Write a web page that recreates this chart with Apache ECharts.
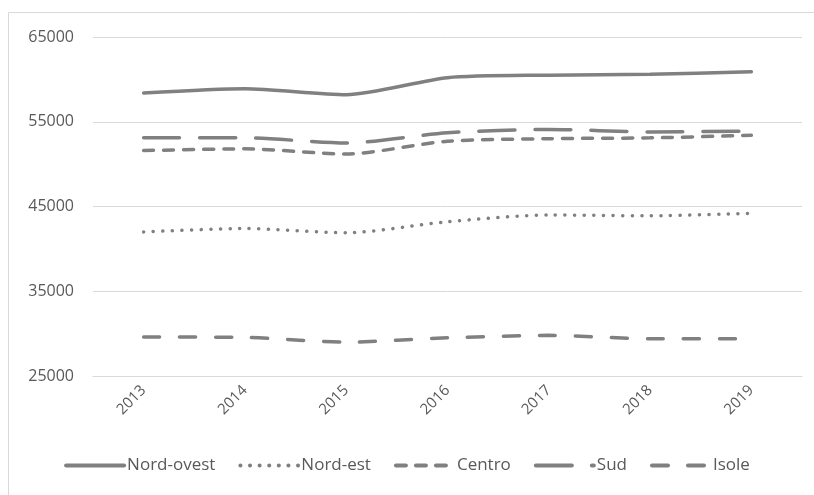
<!DOCTYPE html>
<html>
<head>
<meta charset="utf-8">
<script src="https://cdn.jsdelivr.net/npm/echarts@6/dist/echarts.min.js"></script>
<style>
  html, body { margin: 0; padding: 0; background: #fff; }
  #chart { width: 814px; height: 495px; }
</style>
</head>
<body>
<div id="chart"></div>
<script>
var anni = ['2013', '2014', '2015', '2016', '2017', '2018', '2019'];
var nordOvest = [58400, 58900, 58200, 60200, 60500, 60600, 60900];
var nordEst = [42000, 42400, 41900, 43200, 44000, 43900, 44200];
var centro = [51600, 51800, 51200, 52700, 53000, 53100, 53400];
var sud = [53100, 53100, 52500, 53700, 54100, 53800, 53900];
var isole = [29600, 29550, 29000, 29500, 29800, 29400, 29400];

var grigio = '#808080';
var testo = '#595959';
var font = 'Open Sans';

function serie(nome, dati, tratto) {
  return {
    name: nome,
    type: 'line',
    data: dati,
    smooth: 0.25,
    symbol: 'none',
    lineStyle: { color: grigio, width: 3.5, type: tratto, cap: 'round' },
    itemStyle: { color: grigio }
  };
}

var myChart = echarts.init(document.getElementById('chart'));
var option = {
  animation: false,
  backgroundColor: '#fff',
  graphic: [{
    type: 'rect',
    shape: { x: 8.5, y: 12.5, width: 820, height: 500 },
    style: { fill: 'none', stroke: '#d9d9d9', lineWidth: 1 },
    silent: true
  }],
  grid: { left: 93, right: 12, top: 37, bottom: 119 },
  legend: {
    bottom: 16,
    left: 'center',
    itemWidth: 58,
    itemHeight: 14,
    itemGap: 23,
    itemStyle: { opacity: 0 },
    lineStyle: { width: 4, cap: 'round' },
    textStyle: { color: testo, fontFamily: font, fontSize: 17, padding: [0, 0, 0, -2] },
    data: ['Nord-ovest', 'Nord-est', 'Centro', 'Sud', 'Isole']
  },
  xAxis: {
    type: 'category',
    data: anni,
    boundaryGap: true,
    axisLine: { lineStyle: { color: '#d9d9d9' } },
    axisTick: { show: false },
    axisLabel: { rotate: 45, color: testo, fontFamily: font, fontSize: 15, margin: 12 }
  },
  yAxis: {
    type: 'value',
    min: 25000,
    max: 65000,
    interval: 10000,
    axisLine: { show: false },
    axisTick: { show: false },
    splitLine: { lineStyle: { color: '#d9d9d9' } },
    axisLabel: {
      color: testo, fontFamily: font, fontSize: 16, margin: 19,
      formatter: function (v) { return String(v); }
    }
  },
  series: [
    serie('Nord-ovest', nordOvest, 'solid'),
    serie('Nord-est', nordEst, [0.1, 9.5]),
    serie('Centro', centro, [10, 10]),
    serie('Sud', sud, [36, 20]),
    serie('Isole', isole, [16, 20])
  ]
};
myChart.setOption(option);
</script>
</body>
</html>
